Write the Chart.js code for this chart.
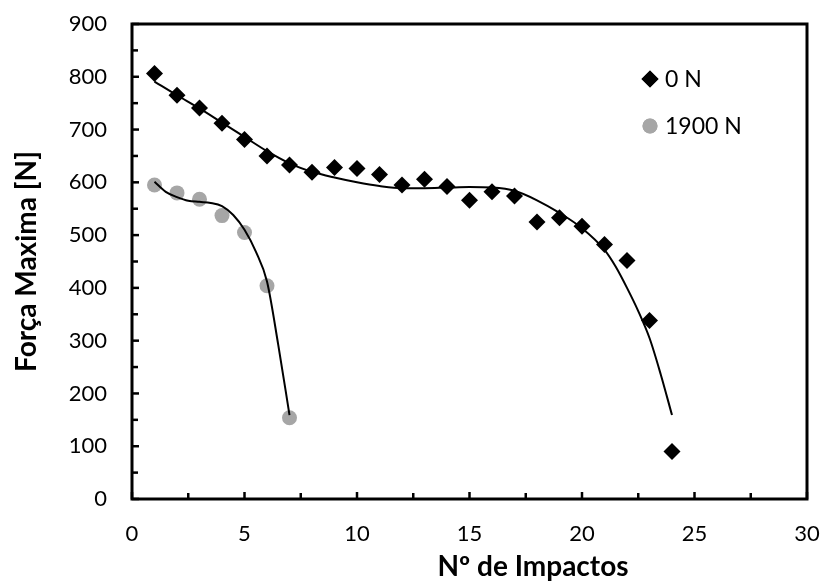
<!DOCTYPE html>
<html>
<head>
<meta charset="utf-8">
<script src="https://cdn.jsdelivr.net/npm/chart.js@4.4.1/dist/chart.umd.min.js"></script>
<style>
  html, body { margin: 0; padding: 0; background: #fff; }
</style>
</head>
<body>
<canvas id="grafico" width="822" height="583"></canvas>
<script>
// dados
const impactos0 = [1, 2, 3, 4, 5, 6, 7, 8, 9, 10, 11, 12, 13, 14, 15, 16, 17, 18, 19, 20, 21, 22, 23, 24];
const forca0    = [806, 765, 741, 712, 681, 650, 633, 619, 628, 626, 615, 595, 606, 592, 566, 582, 574, 525, 533, 517, 482, 452, 338, 90];
const impactos1900 = [1, 2, 3, 4, 5, 6, 7];
const forca1900    = [595, 580, 568, 537, 505, 404, 154];

// linhas de tendência (também)
const tendX0 = [1, 2, 3, 4, 5, 6, 7, 8, 9, 10, 11, 12, 13, 14, 15, 16, 17, 18, 19, 20, 21, 21.5, 22, 22.5, 23, 23.5, 24];
const tendY0 = [791, 765, 740, 713, 686, 659, 636, 620, 609, 600, 593, 589, 589, 590, 591, 590, 584, 566, 542, 513, 472, 440, 400, 356, 305, 236, 159];
const tendX1900 = [1, 1.5, 2, 2.5, 3, 3.5, 4, 4.5, 5, 5.5, 6, 6.5, 7];
const tendY1900 = [601, 582, 572, 565, 563, 561, 555, 538, 510, 469, 412, 292, 159];

// eixos
const ticksX = [0, 5, 10, 15, 20, 25, 30];
const ticksY = [0, 100, 200, 300, 400, 500, 600, 700, 800, 900];
const tituloX = "Nº de Impactos";
const tituloY = "Força Maxima [N]";
const nomes = ["0 N", "1900 N"];

const FONTE = "Lato, 'Open Sans', sans-serif";
const pares = (xs, ys) => xs.map((x, i) => ({ x, y: ys[i] }));

// moldura, marcas internas, títulos e legenda
const moldura = {
  id: "moldura",
  afterDraw(chart) {
    const { ctx, chartArea: a, scales } = chart;
    ctx.save();
    ctx.strokeStyle = "#000";
    ctx.lineCap = "butt";

    // marcas principais e secundárias (para dentro)
    ctx.lineWidth = 2.5;
    const marcas = (lista) => {
      const out = [];
      lista.forEach((v, i) => {
        out.push([v, 7]);
        if (i < lista.length - 1) out.push([(v + lista[i + 1]) / 2, 6]);
      });
      return out;
    };
    marcas(ticksX).forEach(([v, len]) => {
      const px = scales.x.getPixelForValue(v);
      ctx.beginPath(); ctx.moveTo(px, a.bottom); ctx.lineTo(px, a.bottom - len); ctx.stroke();
    });
    marcas(ticksY).forEach(([v, len]) => {
      const py = scales.y.getPixelForValue(v);
      ctx.beginPath(); ctx.moveTo(a.left, py); ctx.lineTo(a.left + len, py); ctx.stroke();
    });

    ctx.lineWidth = 3;
    ctx.strokeRect(a.left, a.top, a.right - a.left, a.bottom - a.top);

    // títulos dos eixos
    ctx.fillStyle = "#000";
    ctx.font = "bold 28px " + FONTE;
    ctx.textAlign = "center";
    ctx.textBaseline = "middle";
    ctx.fillText(tituloX, 533, 567);
    ctx.save();
    ctx.translate(27, (a.top + a.bottom) / 2);
    ctx.rotate(-Math.PI / 2);
    ctx.fillText(tituloY, 0, 0);
    ctx.restore();

    // legenda
    ctx.font = "23px " + FONTE;
    ctx.textAlign = "left";
    const itens = [chart.data.datasets[2], chart.data.datasets[3]];
    itens.forEach((ds, i) => {
      const y = 79 + i * 47;
      const x = 650;
      ctx.fillStyle = ds.backgroundColor;
      Chart.helpers.drawPoint(ctx, { pointStyle: ds.pointStyle, radius: ds.pointRadius, borderWidth: 0 }, x, y);
      ctx.fill();
      ctx.fillStyle = "#000";
      ctx.fillText(nomes[i], x + 15, y + 1);
    });
    ctx.restore();
  }
};

new Chart(document.getElementById("grafico"), {
  type: "scatter",
  data: {
    datasets: [
      {
        type: "line",
        label: "tend 0 N",
        data: pares(tendX0, tendY0),
        borderColor: "#000",
        borderWidth: 2,
        pointRadius: 0,
        cubicInterpolationMode: "monotone",
        fill: false,
        order: 0
      },
      {
        type: "line",
        label: "tend 1900 N",
        data: pares(tendX1900, tendY1900),
        borderColor: "#000",
        borderWidth: 2,
        pointRadius: 0,
        cubicInterpolationMode: "monotone",
        fill: false,
        order: 0
      },
      {
        label: nomes[0],
        data: pares(impactos0, forca0),
        pointStyle: "rectRot",
        pointRadius: 8.5,
        backgroundColor: "#000",
        borderColor: "#000",
        borderWidth: 0,
        order: 1
      },
      {
        label: nomes[1],
        data: pares(impactos1900, forca1900),
        pointStyle: "circle",
        pointRadius: 7.5,
        backgroundColor: "#A6A6A6",
        borderColor: "#A6A6A6",
        borderWidth: 0,
        order: 1
      }
    ]
  },
  options: {
    responsive: false,
    animation: false,
    devicePixelRatio: 1,
    layout: { autoPadding: false, padding: { top: 24, right: 15, left: 0, bottom: 0 } },
    plugins: {
      legend: { display: false },
      tooltip: { enabled: false }
    },
    scales: {
      x: {
        type: "linear",
        min: ticksX[0],
        max: ticksX[ticksX.length - 1],
        grid: { display: false, drawTicks: false },
        border: { display: false },
        ticks: {
          stepSize: ticksX[1] - ticksX[0],
          color: "#000",
          font: { family: FONTE, size: 22 },
          padding: 22,
          maxRotation: 0
        },
        afterFit: s => { s.height = 84; s.paddingLeft = 0; s.paddingRight = 0; }
      },
      y: {
        type: "linear",
        min: ticksY[0],
        max: ticksY[ticksY.length - 1],
        grid: { display: false, drawTicks: false },
        border: { display: false },
        ticks: {
          stepSize: ticksY[1] - ticksY[0],
          color: "#000",
          font: { family: FONTE, size: 22 },
          padding: 25
        },
        afterFit: s => { s.width = 132; s.paddingTop = 0; s.paddingBottom = 0; }
      }
    }
  },
  plugins: [moldura]
});
</script>
</body>
</html>
